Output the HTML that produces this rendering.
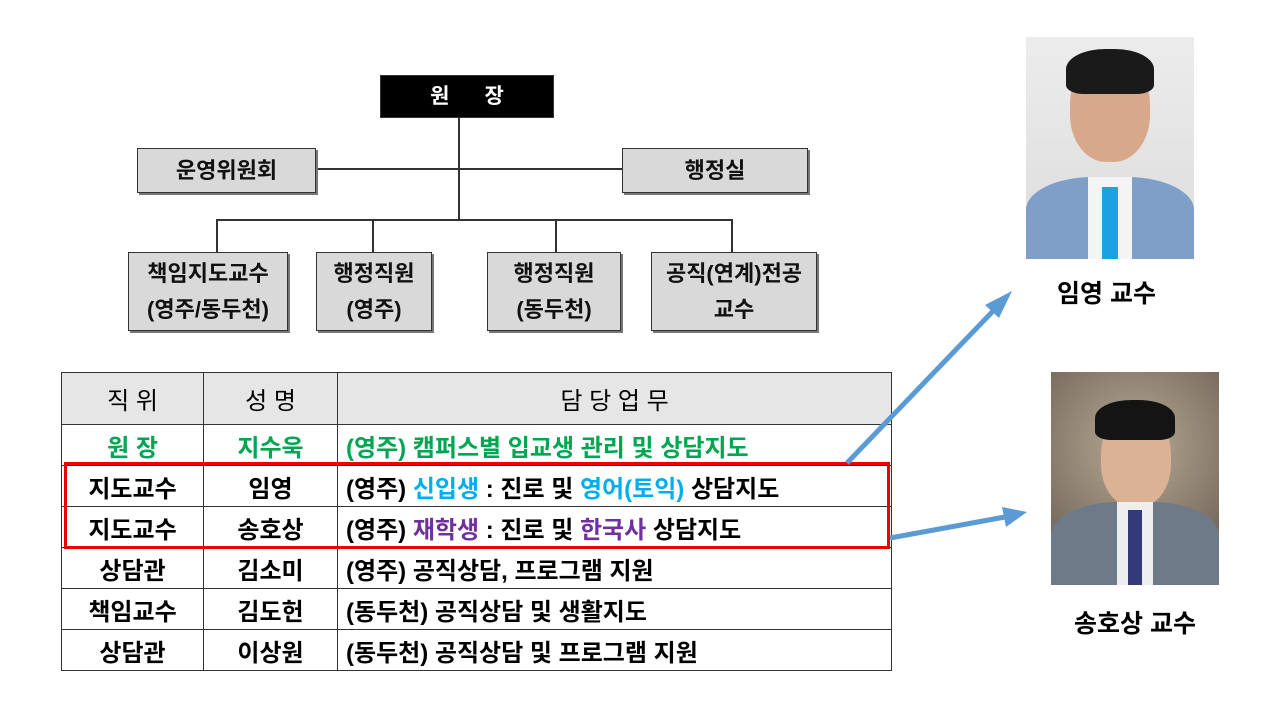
<!DOCTYPE html>
<html><head><meta charset="utf-8"><style>
body{margin:0;width:1280px;height:720px;background:#fff;position:relative;overflow:hidden;font-family:"Liberation Sans","Noto Sans CJK KR",sans-serif;}
.b{position:absolute;background:#d9d9d9;border:1.5px solid #333;box-shadow:2px 2px 0 #777;box-sizing:border-box;display:flex;flex-direction:column;align-items:center;justify-content:center;font-weight:bold;font-size:22px;color:#111;line-height:36px;text-align:center;white-space:nowrap}
.l{position:absolute;background:#333}
table{position:absolute;left:61px;top:372px;border-collapse:collapse;font-weight:bold;font-size:24px;table-layout:fixed}
td{border:1px solid #333;height:40px;padding:0;text-align:center;white-space:nowrap;overflow:hidden}
td.d{text-align:left;padding-left:8px}
.g{color:#00a650}.c{color:#00aeef}.p{color:#7030a0}
</style></head><body>
<div class="l" style="left:458px;top:117px;width:1.5px;height:104px"></div>
<div class="l" style="left:315px;top:168px;width:307px;height:1.5px"></div>
<div class="l" style="left:216px;top:219px;width:517px;height:1.5px"></div>
<div class="l" style="left:216px;top:219px;width:1.5px;height:33px"></div>
<div class="l" style="left:372px;top:219px;width:1.5px;height:33px"></div>
<div class="l" style="left:555px;top:219px;width:1.5px;height:33px"></div>
<div class="l" style="left:731px;top:219px;width:1.5px;height:33px"></div>
<div class="b" style="left:380px;top:75px;width:174px;height:43px;background:#000;color:#fff;box-shadow:none;font-size:21px">원&nbsp;&nbsp;&nbsp;&nbsp;&nbsp;&nbsp;장</div>
<div class="b" style="left:137px;top:148px;width:179px;height:45px">운영위원회</div>
<div class="b" style="left:622px;top:148px;width:186px;height:45px">행정실</div>
<div class="b" style="left:128px;top:252px;width:160px;height:79px;font-size:22px"><div>책임지도교수</div><div>(영주/동두천)</div></div>
<div class="b" style="left:316px;top:252px;width:116px;height:79px;font-size:22px"><div>행정직원</div><div>(영주)</div></div>
<div class="b" style="left:487px;top:252px;width:134px;height:79px;font-size:22px"><div>행정직원</div><div>(동두천)</div></div>
<div class="b" style="left:651px;top:252px;width:166px;height:79px;font-size:22px"><div>공직(연계)전공</div><div>교수</div></div>
<table>
<tr style="background:#e6e6e6"><td style="width:141px;height:51px;font-weight:normal">직 위</td><td style="width:133px;font-weight:normal">성 명</td><td style="width:553px;font-weight:normal">담 당 업 무</td></tr>
<tr class="g"><td>원 장</td><td>지수욱</td><td class="d">(영주) 캠퍼스별 입교생 관리 및 상담지도</td></tr>
<tr><td>지도교수</td><td>임영</td><td class="d">(영주) <span class="c">신입생</span> : 진로 및 <span class="c">영어(토익)</span> 상담지도</td></tr>
<tr><td>지도교수</td><td>송호상</td><td class="d">(영주) <span class="p">재학생</span> : 진로 및 <span class="p">한국사</span> 상담지도</td></tr>
<tr><td>상담관</td><td>김소미</td><td class="d">(영주) 공직상담, 프로그램 지원</td></tr>
<tr><td>책임교수</td><td>김도헌</td><td class="d">(동두천) 공직상담 및 생활지도</td></tr>
<tr><td>상담관</td><td>이상원</td><td class="d">(동두천) 공직상담 및 프로그램 지원</td></tr>
</table>
<div style="position:absolute;left:64px;top:462px;width:826px;height:87px;border:3px solid #e00;box-sizing:border-box"></div>
<svg style="position:absolute;left:0;top:0" width="1280" height="720">
<line x1="847" y1="463" x2="995" y2="309" stroke="#5b9bd5" stroke-width="5"/>
<polygon points="1012,291 985,305 999,318" fill="#5b9bd5"/>
<line x1="890" y1="538" x2="1005" y2="517" stroke="#5b9bd5" stroke-width="5"/>
<polygon points="1027,512 1002,507 1006,527" fill="#5b9bd5"/>
</svg>
<div style="position:absolute;left:1026px;top:37px;width:168px;height:222px;background:linear-gradient(#ececec,#dcdcdc)">
<div style="position:absolute;left:44px;top:20px;width:80px;height:105px;border-radius:45%;background:#d7a98a"></div>
<div style="position:absolute;left:40px;top:12px;width:88px;height:45px;border-radius:45% 45% 20% 20%;background:#1a1a1a"></div>
<div style="position:absolute;left:0;top:140px;width:168px;height:82px;background:#7f9fc9;border-radius:40% 40% 0 0"></div>
<div style="position:absolute;left:62px;top:140px;width:44px;height:82px;background:#f4f4f4"></div>
<div style="position:absolute;left:76px;top:150px;width:16px;height:72px;background:#1aa3e0"></div>
</div>
<div style="position:absolute;left:1051px;top:372px;width:168px;height:213px;background:radial-gradient(circle at 50% 35%,#b9aa95,#5b5248)">
<div style="position:absolute;left:50px;top:40px;width:70px;height:95px;border-radius:45%;background:#dcb296"></div>
<div style="position:absolute;left:44px;top:28px;width:80px;height:40px;border-radius:45% 45% 20% 20%;background:#141414"></div>
<div style="position:absolute;left:0;top:130px;width:168px;height:83px;background:#6f7a88;border-radius:40% 40% 0 0"></div>
<div style="position:absolute;left:66px;top:130px;width:36px;height:83px;background:#eee"></div>
<div style="position:absolute;left:77px;top:138px;width:14px;height:75px;background:#333a7a"></div>
</div>
<div style="position:absolute;left:1057px;top:274px;font-weight:bold;font-size:25px">임영 교수</div>
<div style="position:absolute;left:1074px;top:604px;font-weight:bold;font-size:25px">송호상 교수</div>
</body></html>
